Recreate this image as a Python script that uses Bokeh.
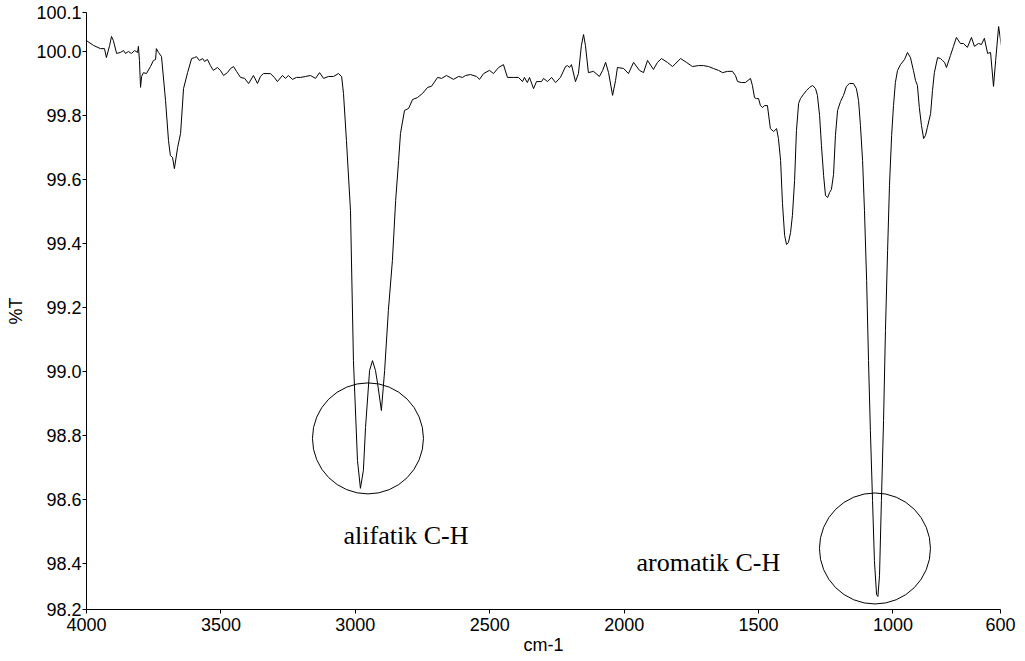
from bokeh.plotting import figure
from bokeh.models import Range1d, FixedTicker, CustomJSTickFormatter
from bokeh.embed import file_html
from bokeh.resources import INLINE
from bokeh.core.properties import value

# ---- spectrum data ----
wavenumber = [4000, 3974, 3948, 3933, 3926, 3914, 3907, 3900, 3888, 3874, 3862, 3855, 3844, 3833, 3821, 3810,
              3807, 3803, 3799, 3795, 3788, 3777, 3762, 3751, 3743, 3740, 3732, 3721, 3706, 3695, 3688, 3680,
              3673, 3661, 3650, 3639, 3624, 3609, 3598, 3591, 3580, 3568, 3561, 3550, 3539, 3528, 3513, 3502,
              3490, 3476, 3464, 3453, 3442, 3427, 3412, 3397, 3379, 3364, 3353, 3342, 3316, 3301, 3290, 3271,
              3260, 3249, 3234, 3219, 3204, 3185, 3167, 3148, 3133, 3118, 3100, 3081, 3063, 3051, 3044, 3033,
              3018, 3007, 2992, 2981, 2970, 2962, 2947, 2936, 2925, 2917, 2903, 2891, 2877, 2862, 2850, 2839,
              2832, 2817, 2802, 2787, 2769, 2750, 2731, 2717, 2694, 2679, 2661, 2635, 2616, 2601, 2590, 2572,
              2549, 2538, 2523, 2501, 2486, 2467, 2449, 2434, 2412, 2393, 2378, 2371, 2360, 2352, 2337, 2326,
              2307, 2300, 2285, 2270, 2255, 2237, 2218, 2211, 2203, 2196, 2181, 2170, 2159, 2151, 2144, 2133,
              2114, 2092, 2080, 2069, 2058, 2043, 2032, 2025, 2002, 1984, 1965, 1943, 1928, 1913, 1891, 1876,
              1861, 1839, 1820, 1790, 1768, 1746, 1723, 1705, 1686, 1668, 1649, 1634, 1615, 1597, 1586, 1578,
              1563, 1549, 1530, 1523, 1515, 1508, 1500, 1493, 1485, 1478, 1467, 1456, 1444, 1433, 1426, 1418,
              1411, 1403, 1396, 1389, 1381, 1374, 1366, 1359, 1351, 1344, 1333, 1322, 1310, 1299, 1288, 1281,
              1273, 1266, 1258, 1251, 1243, 1236, 1229, 1221, 1214, 1206, 1195, 1184, 1173, 1162, 1147, 1136,
              1128, 1121, 1113, 1106, 1098, 1091, 1084, 1076, 1069, 1061, 1056, 1050, 1043, 1035, 1028, 1020,
              1013, 1005, 998, 991, 983, 972, 957, 946, 935, 924, 916, 909, 902, 894, 886, 879,
              872, 860, 853, 846, 834, 823, 816, 808, 801, 786, 775, 764, 749, 738, 723, 708,
              697, 682, 671, 660, 648, 637, 626, 618, 607, 597]

transmittance = [100.033, 100.018, 100.008, 100.008, 99.980, 100.018, 100.046, 100.033, 99.993, 99.996, 100.002, 99.993, 99.999, 99.993, 100.002, 99.996,
                 100.015, 99.971, 99.887, 99.921, 99.933, 99.930, 99.952, 99.971, 99.974, 100.008, 99.996, 99.983, 99.846, 99.721, 99.674, 99.668,
                 99.633, 99.699, 99.743, 99.883, 99.933, 99.977, 99.980, 99.983, 99.971, 99.977, 99.968, 99.974, 99.955, 99.940, 99.949, 99.940,
                 99.924, 99.933, 99.946, 99.952, 99.937, 99.918, 99.915, 99.899, 99.924, 99.899, 99.921, 99.930, 99.930, 99.918, 99.905, 99.924,
                 99.915, 99.924, 99.912, 99.918, 99.918, 99.921, 99.924, 99.915, 99.933, 99.915, 99.921, 99.921, 99.930, 99.921, 99.868, 99.721,
                 99.502, 99.033, 98.721, 98.634, 98.690, 98.824, 99.002, 99.033, 99.002, 98.961, 98.877, 99.002, 99.190, 99.346, 99.533, 99.658,
                 99.743, 99.815, 99.821, 99.849, 99.855, 99.868, 99.887, 99.890, 99.918, 99.915, 99.924, 99.912, 99.921, 99.918, 99.924, 99.927,
                 99.921, 99.912, 99.930, 99.940, 99.930, 99.949, 99.958, 99.918, 99.918, 99.918, 99.905, 99.918, 99.902, 99.918, 99.883, 99.905,
                 99.905, 99.915, 99.905, 99.918, 99.902, 99.918, 99.952, 99.955, 99.949, 99.958, 99.905, 99.930, 100.018, 100.052, 100.018, 99.933,
                 99.937, 99.921, 99.940, 99.965, 99.933, 99.862, 99.908, 99.949, 99.946, 99.930, 99.965, 99.940, 99.933, 99.971, 99.943, 99.965,
                 99.977, 99.965, 99.952, 99.977, 99.965, 99.952, 99.955, 99.955, 99.952, 99.946, 99.940, 99.933, 99.937, 99.937, 99.924, 99.905,
                 99.902, 99.902, 99.915, 99.893, 99.855, 99.852, 99.852, 99.830, 99.824, 99.830, 99.830, 99.758, 99.749, 99.758, 99.727, 99.658,
                 99.524, 99.424, 99.396, 99.402, 99.433, 99.487, 99.596, 99.752, 99.837, 99.852, 99.865, 99.877, 99.887, 99.893, 99.883, 99.862,
                 99.799, 99.705, 99.611, 99.549, 99.543, 99.558, 99.568, 99.615, 99.737, 99.815, 99.843, 99.862, 99.890, 99.899, 99.899, 99.883,
                 99.846, 99.768, 99.658, 99.502, 99.283, 99.033, 98.815, 98.596, 98.408, 98.302, 98.296, 98.362, 98.596, 98.846, 99.127, 99.377,
                 99.580, 99.737, 99.830, 99.902, 99.940, 99.958, 99.974, 99.996, 99.980, 99.940, 99.908, 99.893, 99.824, 99.768, 99.727, 99.737,
                 99.762, 99.805, 99.877, 99.933, 99.980, 99.977, 99.971, 99.965, 99.949, 99.987, 100.015, 100.043, 100.024, 100.024, 100.012, 100.043,
                 100.015, 100.024, 100.021, 100.040, 99.993, 99.996, 99.890, 99.971, 100.077, 100.018]

# ---- axes ----
x_ticks = [4000, 3500, 3000, 2500, 2000, 1500, 1000, 600]
x_tick_labels = ["4000", "3500", "3000", "2500", "2000", "1500", "1000", "600"]
y_ticks = [98.2553, 98.4, 98.6, 98.8, 99.0, 99.2, 99.4, 99.6, 99.8, 100.0, 100.1209]
y_tick_labels = ["98.2", "98.4", "98.6", "98.8", "99.0", "99.2", "99.4", "99.6", "99.8", "100.0", "100.1"]
x_title = "cm-1"
y_title = "%T"

# ---- annotations ----
annot_text = ["alifatik C-H", "aromatik C-H"]
annot_x = [3044, 1954]
annot_y = [98.4865, 98.402]
circle_x = [2953, 1067]
circle_y = [98.790, 98.446]

p = figure(width=1025, height=661, output_backend="svg", toolbar_location=None,
           x_range=Range1d(x_ticks[0], x_ticks[-1]),
           y_range=Range1d(y_ticks[0], y_ticks[-1]),
           min_border_left=86, min_border_right=25, min_border_top=12, min_border_bottom=52)
p.outline_line_color = None
p.xgrid.visible = False
p.ygrid.visible = False
p.background_fill_color = "white"
p.border_fill_color = "white"

p.line(wavenumber, transmittance, line_color="black", line_width=1)

p.scatter(x=circle_x, y=circle_y, size=111, marker="circle", fill_color=None,
          line_color="black", line_width=1)
p.text(x=annot_x, y=annot_y, text=annot_text, text_font=value("Liberation Serif"),
       text_font_size="26px", text_color="black", text_baseline="alphabetic", text_align="left")

fmt_code = """
let best = 0, bd = Infinity;
for (let i = 0; i < tvals.length; i++) {
  const d = Math.abs(tvals[i] - tick);
  if (d < bd) { bd = d; best = i; }
}
return tlabels[best];
"""

for ax, tv, tl, title in [(p.xaxis[0], x_ticks, x_tick_labels, x_title),
                          (p.yaxis[0], y_ticks, y_tick_labels, y_title)]:
    ax.ticker = FixedTicker(ticks=tv)
    ax.formatter = CustomJSTickFormatter(args=dict(tvals=tv, tlabels=tl), code=fmt_code)
    ax.axis_label = title
    ax.axis_line_color = "black"
    ax.axis_line_width = 1
    ax.major_tick_line_color = "black"
    ax.major_tick_out = 4
    ax.major_tick_in = 0
    ax.minor_tick_line_color = None
    ax.major_label_text_font = "Liberation Sans"
    ax.major_label_text_font_size = "18px"
    ax.major_label_text_color = "black"
    ax.axis_label_text_font = "Liberation Sans"
    ax.axis_label_text_font_size = "18px"
    ax.axis_label_text_font_style = "normal"
    ax.axis_label_text_color = "black"

p.xaxis[0].major_label_standoff = 4
p.xaxis[0].axis_label_standoff = 1
p.yaxis[0].major_label_standoff = 1
p.yaxis[0].axis_label_standoff = 7

open("out.html", "w").write(file_html(p, INLINE))
